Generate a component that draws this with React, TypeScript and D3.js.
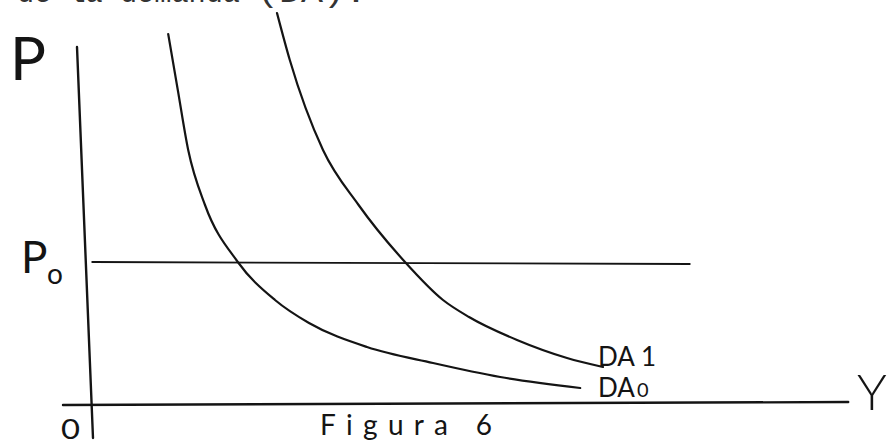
import React from "react";
import * as d3 from "d3";

// Curve data (Y on x, P on y)
const da0Y = [10.4, 11.6, 12.9, 15.0, 19.1, 23.75, 28.0, 35.25, 43.5, 51.9, 61.9];
const da0P = [92.75, 78.75, 63.75, 50.0, 35.75, 26.25, 20.5, 14.5, 10.5, 7.0, 4.25];
const da1Y = [24.0, 25.6, 29.75, 34.2, 40.0, 44.75, 48.0, 54.0, 60.25, 64.75];
const da1P = [98.0, 86.25, 63.75, 50.0, 35.75, 26.25, 22.0, 16.25, 11.75, 9.5];

// Axes and price line endpoints (hand drawn, slightly tilted)
const yAxisY = [-1, 1];
const yAxisP = [89.5, -8.25];
const xAxisY = [-2.75, 95.4];
const xAxisP = [0, 0.75];
const p0LineY = [0.9, 75.6];
const p0LineP = [35.75, 35.25];

const W = 888;
const H = 444;

const x = d3.scaleLinear().domain([0, 100]).range([85, 885]);
const y = d3.scaleLinear().domain([0, 100]).range([405, 5]);

const zip = (a: number[], b: number[]) => a.map((v, i) => [v, b[i]] as [number, number]);

const curveLine = d3
  .line<[number, number]>()
  .x((d) => x(d[0]))
  .y((d) => y(d[1]))
  .curve(d3.curveMonotoneX);

const straight = d3
  .line<[number, number]>()
  .x((d) => x(d[0]))
  .y((d) => y(d[1]));

const ink = "#141414";
const hand = "'Lato', 'DejaVu Sans', sans-serif";

export default function App() {
  return (
    <svg
      width={W}
      height={H}
      viewBox={`0 0 ${W} ${H}`}
      style={{ position: "fixed", left: 0, top: 0, background: "#fff" }}
    >
      <rect x={0} y={0} width={W} height={H} fill="#fff" />
      {/* cut-off caption line at the top */}
      <text x={17} y={2} fontFamily="'Liberation Mono', monospace" fontSize={30} fill="#333" textLength={223} lengthAdjust="spacingAndGlyphs">
        de la demanda
      </text>
      <text x={257} y={2} fontFamily="'Liberation Mono', monospace" fontSize={30} fill="#333" textLength={110} lengthAdjust="spacingAndGlyphs">
        (DA).
      </text>

      {/* axes */}
      <path d={straight(zip(yAxisY, yAxisP)) || ""} stroke={ink} strokeWidth={2.4} fill="none" strokeLinecap="round" />
      <path d={straight(zip(xAxisY, xAxisP)) || ""} stroke={ink} strokeWidth={2.4} fill="none" strokeLinecap="round" />
      {/* P0 line */}
      <path d={straight(zip(p0LineY, p0LineP)) || ""} stroke={ink} strokeWidth={1.8} fill="none" strokeLinecap="round" />

      {/* demand curves */}
      <path d={curveLine(zip(da0Y, da0P)) || ""} stroke={ink} strokeWidth={2.2} fill="none" strokeLinecap="round" />
      <path d={curveLine(zip(da1Y, da1P)) || ""} stroke={ink} strokeWidth={2.2} fill="none" strokeLinecap="round" />

      {/* labels */}
      <text x={10} y={80} fontFamily={hand} fontWeight={400} fontSize={60} fill={ink}>P</text>
      <text x={21} y={273} fontFamily={hand} fontWeight={400} fontSize={44} fill={ink}>P</text>
      <text x={47} y={284} fontFamily={hand} fontWeight={400} fontSize={28} fill={ink}>o</text>
      <text x={61} y={439} fontFamily={hand} fontWeight={400} fontSize={26} fill={ink} textLength={19} lengthAdjust="spacingAndGlyphs">0</text>
      <text x={857} y={410} fontFamily={hand} fontWeight={300} fontSize={50} fill={ink}>Y</text>
      <text x={598} y={366} fontFamily={hand} fontWeight={400} fontSize={26} fill={ink}>
        DA<tspan dx={6}>1</tspan>
      </text>
      <text x={598} y={397} fontFamily={hand} fontWeight={400} fontSize={26} fill={ink}>
        DA<tspan fontSize={20} dx={2}>0</tspan>
      </text>
      <text x={320} y={435} fontFamily={hand} fontWeight={400} fontSize={28} fill={ink} textLength={172} lengthAdjust="spacing">
        Figura 6
      </text>
    </svg>
  );
}
